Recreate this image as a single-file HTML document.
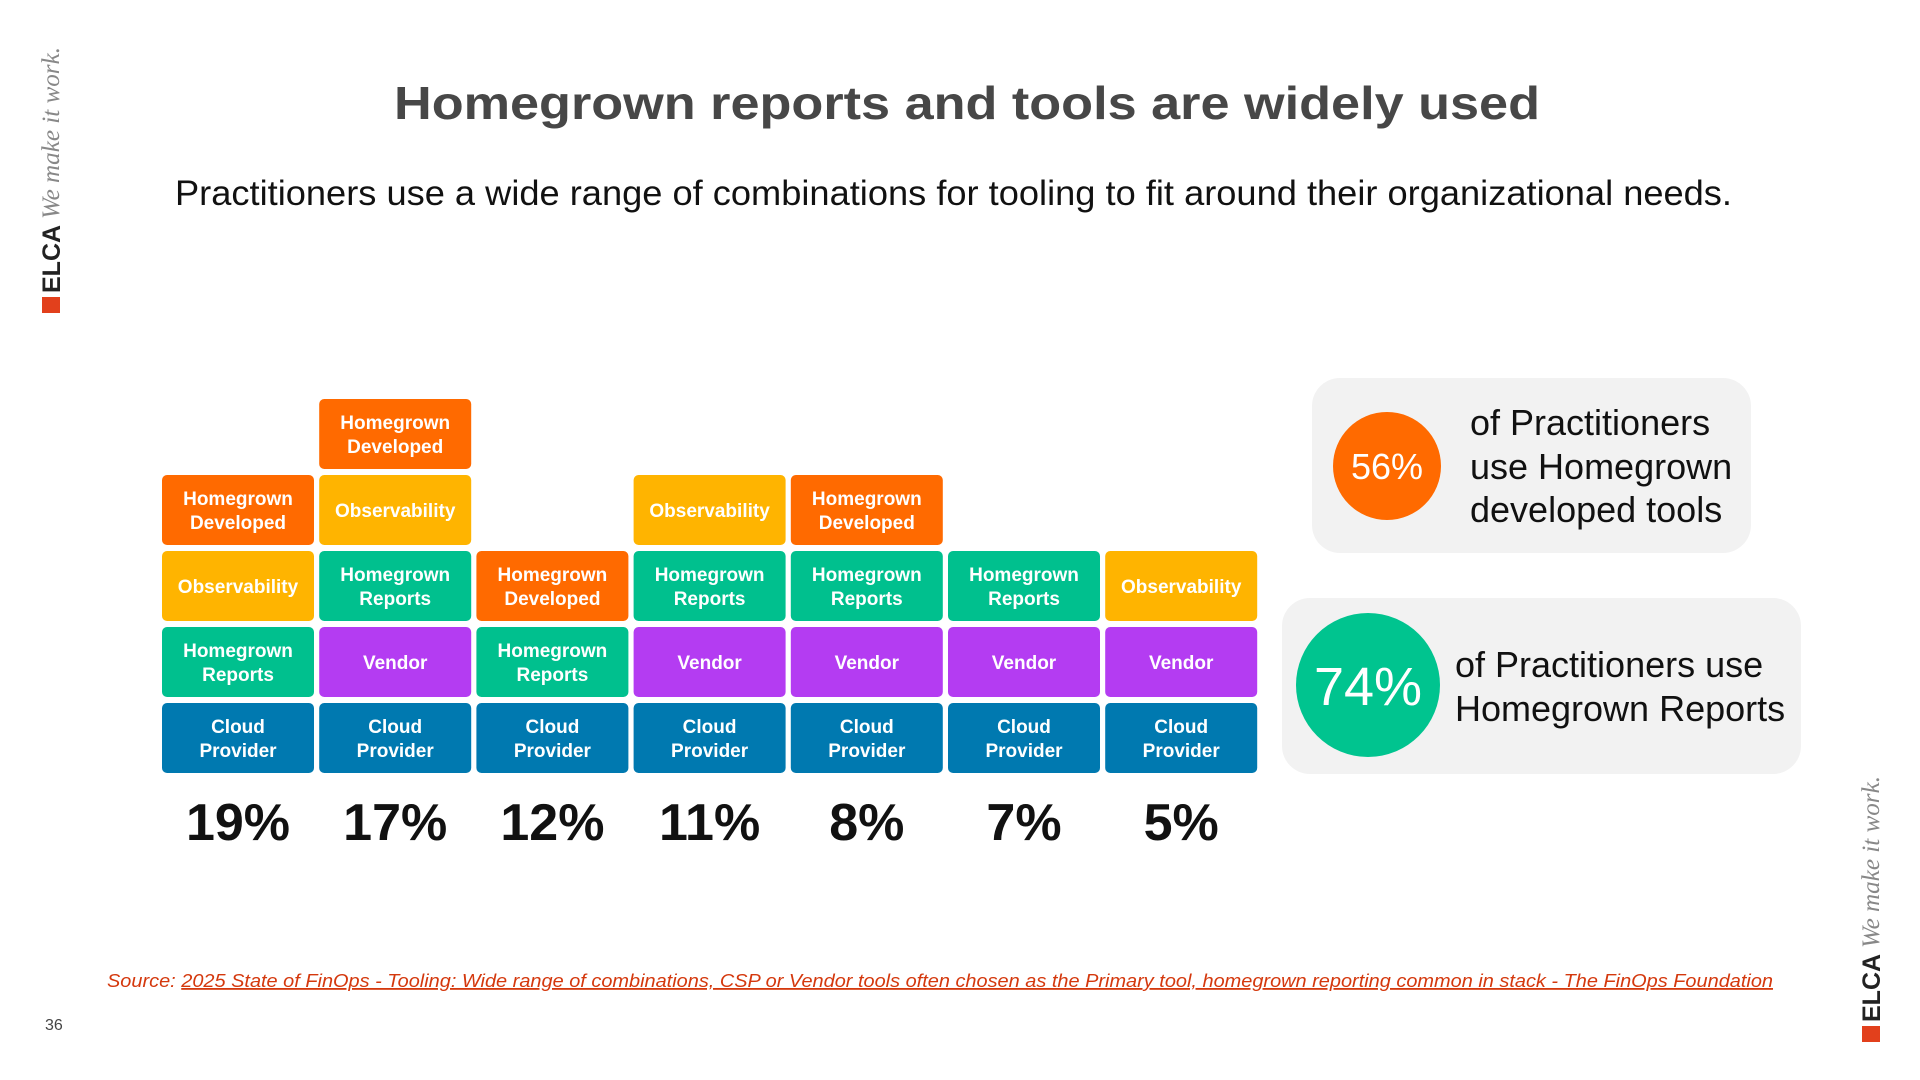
<!DOCTYPE html>
<html><head><meta charset="utf-8"><style>
html,body{margin:0;padding:0;background:#fff;}
svg{display:block}
</style></head><body>
<svg id="s" width="1920" height="1080" viewBox="0 0 1920 1080" xmlns="http://www.w3.org/2000/svg" font-family="Liberation Sans, sans-serif">
  <g transform="translate(60,313) rotate(-90)">
    <rect x="0" y="-18" width="16" height="18" fill="#e2401c"/>
    <text x="20" y="0" font-size="25" font-weight="bold" fill="#222">ELCA</text>
    <text x="94" y="-1" font-size="25" font-style="italic" fill="#888" font-family="Liberation Serif, serif" textLength="172" lengthAdjust="spacingAndGlyphs">We make it work.</text>
  </g>
  <g transform="translate(1880,1042) rotate(-90)">
    <rect x="0" y="-18" width="16" height="18" fill="#e2401c"/>
    <text x="20" y="0" font-size="25" font-weight="bold" fill="#222">ELCA</text>
    <text x="94" y="-1" font-size="25" font-style="italic" fill="#888" font-family="Liberation Serif, serif" textLength="172" lengthAdjust="spacingAndGlyphs">We make it work.</text>
  </g>
  <text x="967" y="119" text-anchor="middle" font-size="46" font-weight="bold" fill="#474747" textLength="1146" lengthAdjust="spacingAndGlyphs">Homegrown reports and tools are widely used</text>
  <text x="175" y="205" font-size="35" fill="#111" textLength="1557" lengthAdjust="spacingAndGlyphs">Practitioners use a wide range of combinations for tooling to fit around their organizational needs.</text>
  <g id="chart"></g>
  <g>
    <rect x="1312" y="378" width="439" height="175" rx="28" fill="#f2f2f2"/>
    <circle cx="1387" cy="466" r="54" fill="#ff6a00"/>
    <text x="1387" y="479" text-anchor="middle" font-size="36" fill="#fff">56%</text>
    <text font-size="36" fill="#111"><tspan x="1470" y="435">of Practitioners</tspan><tspan x="1470" y="479">use Homegrown</tspan><tspan x="1470" y="522">developed tools</tspan></text>
  </g>
  <g>
    <rect x="1282" y="598" width="519" height="176" rx="28" fill="#f2f2f2"/>
    <circle cx="1368" cy="685" r="72" fill="#00c48f"/>
    <text x="1368" y="705" text-anchor="middle" font-size="54" fill="#fff">74%</text>
    <text font-size="36" fill="#111"><tspan x="1455" y="677">of Practitioners use</tspan><tspan x="1455" y="721">Homegrown Reports</tspan></text>
  </g>
  <text x="107" y="987" font-size="18" font-style="italic" fill="#d4380d" textLength="1666" lengthAdjust="spacingAndGlyphs">Source: <tspan text-decoration="underline">2025 State of FinOps - Tooling: Wide range of combinations, CSP or Vendor tools often chosen as the Primary tool, homegrown reporting common in stack - The FinOps Foundation</tspan></text>
  <text x="45" y="1030" font-size="16" fill="#444">36</text>
</svg>
<script>
const percents = [19, 17, 12, 11, 8, 7, 5];
const stacks = [
  ["Cloud Provider","Homegrown Reports","Observability","Homegrown Developed"],
  ["Cloud Provider","Vendor","Homegrown Reports","Observability","Homegrown Developed"],
  ["Cloud Provider","Homegrown Reports","Homegrown Developed"],
  ["Cloud Provider","Vendor","Homegrown Reports","Observability"],
  ["Cloud Provider","Vendor","Homegrown Reports","Homegrown Developed"],
  ["Cloud Provider","Vendor","Homegrown Reports"],
  ["Cloud Provider","Vendor","Observability"]
];
const colors = {"Cloud Provider":"#0079b0","Vendor":"#b43cf2","Homegrown Reports":"#00c08e","Observability":"#ffb400","Homegrown Developed":"#ff6a00"};
const NS="http://www.w3.org/2000/svg";
const g=document.getElementById('chart');
const colX=i=>162+i*157.2, W=152, H=70, bottom=773, pitch=76;
const rowY=j=>bottom-H-j*pitch;
function mk(tag,attrs){const e=document.createElementNS(NS,tag);for(const k in attrs)e.setAttribute(k,attrs[k]);return e;}
stacks.forEach((st,i)=>{
  const col=mk('g',{});
  
  
  st.forEach((lab,j)=>{
    const x=colX(i),y=rowY(j);
    const r=mk('rect',{x:x,y:y,width:W,height:H,rx:5,fill:colors[lab]});
    
    
    col.appendChild(r);
    const words=lab.split(' ');
    const t=mk('text',{x:x+W/2,'text-anchor':'middle','font-size':19,'font-weight':'bold',fill:'#fff'});
    
    
    if(words.length===1){const s=mk('tspan',{x:x+W/2,y:y+H/2+7});s.textContent=words[0];t.appendChild(s);}
    else{words.forEach((w,k)=>{const s=mk('tspan',{x:x+W/2,y:y+H/2-5+k*24});s.textContent=w;t.appendChild(s);});}
    col.appendChild(t);
  });
  const p=mk('text',{x:colX(i)+W/2,y:840,'text-anchor':'middle','font-size':52,'font-weight':'bold',fill:'#111'});
  
  
  p.textContent=percents[i]+'%';
  col.appendChild(p);
  g.appendChild(col);
});
</script>
</body></html>
